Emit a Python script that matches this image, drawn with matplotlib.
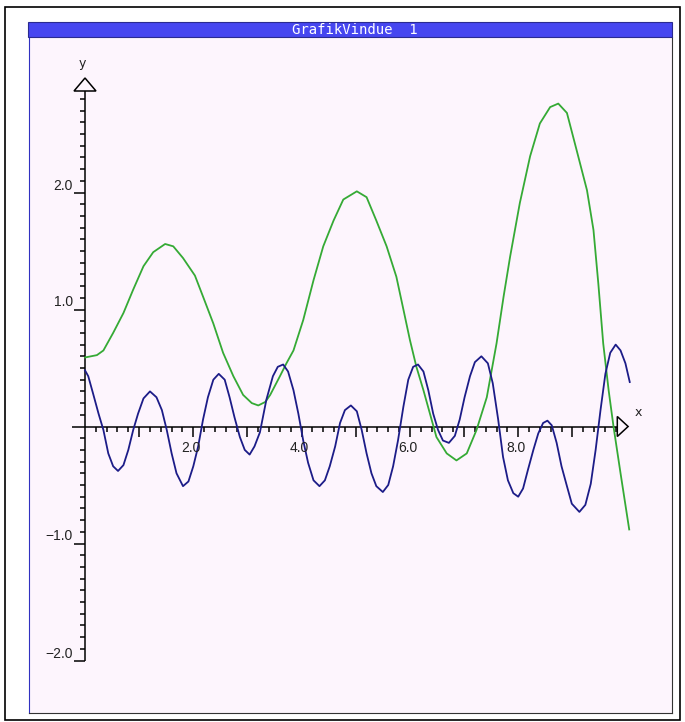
import matplotlib
matplotlib.use('Agg')
import numpy as np
import matplotlib.pyplot as plt
from matplotlib.patches import Rectangle, Polygon

# curves
green_x = [0.0, 0.22, 0.34, 0.52, 0.71, 0.89, 1.08, 1.26, 1.48, 1.63, 1.81, 2.03,
           2.18, 2.37, 2.55, 2.74, 2.92, 3.08, 3.20, 3.33, 3.42, 3.60, 3.72, 3.85,
           4.03, 4.22, 4.40, 4.59, 4.77, 5.02, 5.20, 5.38, 5.57, 5.75, 5.88, 6.00,
           6.12, 6.25, 6.37, 6.49, 6.68, 6.86, 7.05, 7.23, 7.42, 7.60, 7.73, 7.85,
           8.03, 8.22, 8.40, 8.59, 8.74, 8.90, 9.08, 9.27, 9.39, 9.48, 9.57, 9.67,
           9.76, 9.89, 10.05]
green_y = [0.59, 0.61, 0.65, 0.80, 0.97, 1.17, 1.37, 1.49, 1.56, 1.54, 1.44, 1.29,
           1.11, 0.88, 0.63, 0.43, 0.27, 0.20, 0.18, 0.21, 0.27, 0.43, 0.54, 0.65,
           0.91, 1.25, 1.54, 1.76, 1.94, 2.01, 1.96, 1.76, 1.54, 1.28, 1.00, 0.74,
           0.51, 0.31, 0.11, -0.09, -0.23, -0.29, -0.23, -0.03, 0.25, 0.71, 1.11, 1.45,
           1.91, 2.31, 2.59, 2.73, 2.76, 2.68, 2.36, 2.02, 1.68, 1.22, 0.71, 0.31,
           0.0, -0.40, -0.88]

blue_x = [0.0, 0.06, 0.15, 0.25, 0.34, 0.43, 0.52, 0.61, 0.71, 0.80, 0.89, 0.98,
          1.08, 1.20, 1.32, 1.42, 1.51, 1.60, 1.69, 1.81, 1.91, 2.00, 2.09, 2.18,
          2.27, 2.37, 2.47, 2.58, 2.67, 2.76, 2.86, 2.95, 3.04, 3.13, 3.23, 3.35,
          3.47, 3.56, 3.66, 3.75, 3.85, 3.94, 4.03, 4.12, 4.22, 4.33, 4.43, 4.52,
          4.62, 4.71, 4.80, 4.91, 5.02, 5.11, 5.20, 5.29, 5.38, 5.50, 5.60, 5.69,
          5.78, 5.88, 5.97, 6.06, 6.15, 6.25, 6.34, 6.43, 6.52, 6.61, 6.72, 6.83,
          6.92, 7.01, 7.11, 7.20, 7.32, 7.44, 7.53, 7.63, 7.72, 7.81, 7.91, 8.00,
          8.09, 8.18, 8.28, 8.37, 8.46, 8.54, 8.62, 8.71, 8.80, 8.90, 8.99, 9.13,
          9.24, 9.34, 9.43, 9.52, 9.61, 9.70, 9.80, 9.89, 9.98, 10.06]
blue_y = [0.48, 0.43, 0.28, 0.11, -0.03, -0.23, -0.34, -0.38, -0.33, -0.20, -0.03, 0.11,
          0.24, 0.30, 0.25, 0.14, -0.03, -0.23, -0.40, -0.51, -0.47, -0.34, -0.17, 0.06,
          0.25, 0.40, 0.45, 0.40, 0.25, 0.08, -0.09, -0.20, -0.24, -0.17, -0.05, 0.23,
          0.43, 0.51, 0.53, 0.47, 0.31, 0.11, -0.12, -0.31, -0.46, -0.51, -0.46, -0.34,
          -0.17, 0.03, 0.14, 0.18, 0.13, -0.03, -0.23, -0.40, -0.51, -0.56, -0.50, -0.34,
          -0.12, 0.17, 0.40, 0.51, 0.53, 0.47, 0.31, 0.11, -0.03, -0.12, -0.14, -0.08,
          0.06, 0.25, 0.43, 0.55, 0.60, 0.54, 0.37, 0.06, -0.26, -0.46, -0.57, -0.60,
          -0.53, -0.37, -0.20, -0.06, 0.03, 0.05, 0.01, -0.14, -0.34, -0.51, -0.66, -0.73,
          -0.67, -0.49, -0.20, 0.14, 0.45, 0.63, 0.70, 0.65, 0.54, 0.38]

x_labels = ['2.0', '4.0', '6.0', '8.0']
x_label_pos = [2, 4, 6, 8]
y_labels = ['-2.0', '-1.0', '1.0', '2.0']
y_label_pos = [-2, -1, 1, 2]

W, H = 685, 722
fig = plt.figure(figsize=(W / 100, H / 100), dpi=100)
fig.patch.set_facecolor('white')

# outer frame
fig.patches.append(Rectangle((5 / W, 1 - 720 / H), 675 / W, 713 / H, transform=fig.transFigure,
                             fill=False, edgecolor='black', linewidth=1.2))
# title bar
fig.patches.append(Rectangle((28 / W, 1 - 37 / H), 644 / W, 15 / H, transform=fig.transFigure,
                             facecolor='#4646f0', edgecolor='#2a2a90', linewidth=0.8))
fig.text(355 / W, 1 - 29.5 / H, 'GrafikVindue  1', color='white', fontsize=10,
         family='DejaVu Sans Mono', ha='center', va='center')

# plot window, pixel -> data mapping
px0, sx = 85.0, 54.15
py0, sy = 426.5, 117.0
left, right, top, bottom = 29, 672, 37, 713
ax = fig.add_axes([left / W, 1 - bottom / H, (right - left) / W, (bottom - top) / H])
ax.set_facecolor('#fdf5fd')
ax.set_xlim((left - px0) / sx, (right - px0) / sx)
ax.set_ylim((py0 - bottom) / sy, (py0 - top) / sy)
ax.spines['top'].set_visible(False)
ax.spines['left'].set_color('#3030c0')
ax.spines['right'].set_color('#333333')
ax.spines['bottom'].set_color('#333333')
ax.set_xticks([])
ax.set_yticks([])

dx = 1 / sx  # one pixel in x units
dy = 1 / sy  # one pixel in y units
k = dict(color='black', linewidth=1.1, solid_capstyle='butt')
lab_style = dict(fontsize=10, color='#222222', family='Liberation Sans')

# x axis with arrow
ax.plot([-13 * dx, 9.83], [0, 0], **k)
ax.add_patch(Polygon([[9.83, 10 * dy], [10.03, 0], [9.83, -10 * dy]], closed=True,
                     fill=False, edgecolor='black', linewidth=1.1))
for i in range(1, 50):
    xv = i * 0.2
    ln = 10 if i % 5 == 0 else 5
    ax.plot([xv, xv], [0, -ln * dy], **k)
for xv, lab in zip(x_label_pos, x_labels):
    ax.text(xv - 2 * dx, -15 * dy, lab, ha='center', va='top', **lab_style)
ax.text(10.03 + 10 * dx, 14 * dy, 'x', fontsize=9, ha='center', va='center', color='#222222')

# y axis with arrow
ya = (py0 - 91) / sy
yt = (py0 - 78) / sy
ax.plot([0, 0], [-2.0, ya], **k)
ax.add_patch(Polygon([[-11 * dx, ya], [0, yt], [11 * dx, ya]], closed=True,
                     fill=False, edgecolor='black', linewidth=1.1))
for i in range(-20, 29):
    if i == 0:
        continue
    yv = i * 0.1
    ln = 11 if i % 10 == 0 else 5
    ax.plot([0, -ln * dx], [yv, yv], **k)
for yv, lab in zip(y_label_pos, y_labels):
    ax.text(-12 * dx, yv, lab.replace('-', '\u2212'), ha='right', va='bottom', **lab_style)
ax.text(-3 * dx, yt + 14 * dy, 'y', fontsize=9, ha='center', va='center', color='#222222')

# curves
ax.plot(green_x, green_y, color='#35aa35', linewidth=1.3, solid_joinstyle='round')
ax.plot(blue_x, blue_y, color='#1c1c88', linewidth=1.3, solid_joinstyle='round')

fig.savefig('out.png', dpi=100, facecolor='white')
